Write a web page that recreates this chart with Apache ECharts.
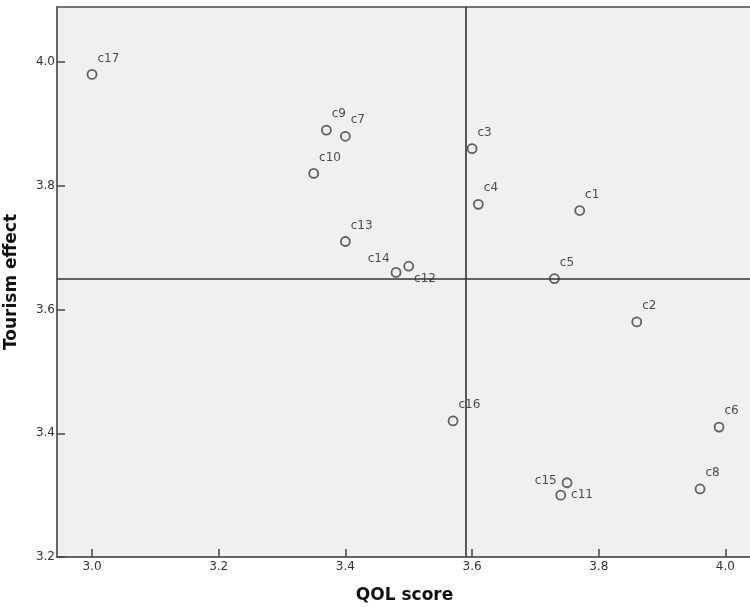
<!DOCTYPE html>
<html>
<head>
<meta charset="utf-8">
<script src="https://cdn.jsdelivr.net/npm/echarts@6/dist/echarts.min.js"></script>
<style>
html,body{margin:0;padding:0;background:#fff;}
#chart{width:750px;height:607px;}
</style>
</head>
<body>
<div id="chart"></div>
<script>
// ---- data ----
var names = ['c1','c2','c3','c4','c5','c6','c7','c8','c9','c10','c11','c12','c13','c14','c15','c16','c17'];
var qolScore = [3.77,3.86,3.60,3.61,3.73,3.99,3.40,3.96,3.37,3.35,3.74,3.50,3.40,3.48,3.75,3.57,3.00];
var tourismEffect = [3.76,3.58,3.86,3.77,3.65,3.41,3.88,3.31,3.89,3.82,3.30,3.67,3.71,3.66,3.32,3.42,3.98];
var xTicks = [3.0,3.2,3.4,3.6,3.8,4.0];
var yTicks = [3.2,3.4,3.6,3.8,4.0];
var meanX = 3.593;
var meanY = 3.646;

// ---- label placement (style) ----
var labelStyle = {
  'c12': {position:'right', distance:0, offset:[0,13]},
  'c14': {position:'left', distance:0, offset:[-1,-14]},
  'c15': {position:'left', distance:5, offset:[0,-2]},
  'c11': {position:'right', distance:5, offset:[0,0]}
};
var defaultLabel = {position:'right', distance:0, offset:[0,-16]};

var data = names.map(function(n,i){
  var l = labelStyle[n] || defaultLabel;
  return {
    name:n,
    value:[qolScore[i], tourismEffect[i]],
    label:{show:true, formatter:n, position:l.position, distance:l.distance, offset:l.offset}
  };
});

var font = 'DejaVu Sans';
var chart = echarts.init(document.getElementById('chart'), null, {renderer:'canvas'});
chart.setOption({
  animation:false,
  backgroundColor:'#ffffff',
  grid:{left:57, top:7, right:-2, bottom:50, containLabel:false, outerBoundsMode:'none',
        show:true, backgroundColor:'#f0f0f0', borderColor:'#777', borderWidth:2},
  xAxis:{
    type:'value', min:2.9447, max:4.042,
    name:'QOL score', nameLocation:'middle', nameGap:30,
    nameTextStyle:{fontFamily:font, fontWeight:'bold', fontSize:17, color:'#111'},
    axisLine:{show:true, onZero:false, lineStyle:{color:'#666', width:2}},
    axisTick:{show:true, inside:true, length:8, customValues:xTicks, lineStyle:{color:'#444', width:1.5}},
    axisLabel:{customValues:xTicks, fontFamily:font, fontSize:12, color:'#333', margin:4, formatter:function(v){return v.toFixed(1);}},
    splitLine:{show:false}
  },
  yAxis:{
    type:'value', min:3.2, max:4.089,
    name:'Tourism effect', nameLocation:'middle', nameGap:37,
    nameTextStyle:{fontFamily:font, fontWeight:'bold', fontSize:17, color:'#111'},
    axisLine:{show:true, onZero:false, lineStyle:{color:'#666', width:2}},
    axisTick:{show:true, inside:true, length:8, customValues:yTicks, lineStyle:{color:'#444', width:1.5}},
    axisLabel:{customValues:yTicks, fontFamily:font, fontSize:12, color:'#333', margin:2, formatter:function(v){return v.toFixed(1);}},
    splitLine:{show:false}
  },
  series:[{
    type:'scatter',
    data:data,
    symbol:'circle',
    symbolSize:9,
    itemStyle:{color:'rgba(0,0,0,0)', borderColor:'#3c3c3c', borderWidth:1.8},
    label:{fontFamily:font, fontSize:12, color:'#222'},
    markLine:{
      silent:true, symbol:['none','none'],
      label:{show:false},
      lineStyle:{color:'#333', width:1.6, type:'solid'},
      data:[{xAxis:meanX},{yAxis:meanY}]
    }
  }]
});
</script>
</body>
</html>
